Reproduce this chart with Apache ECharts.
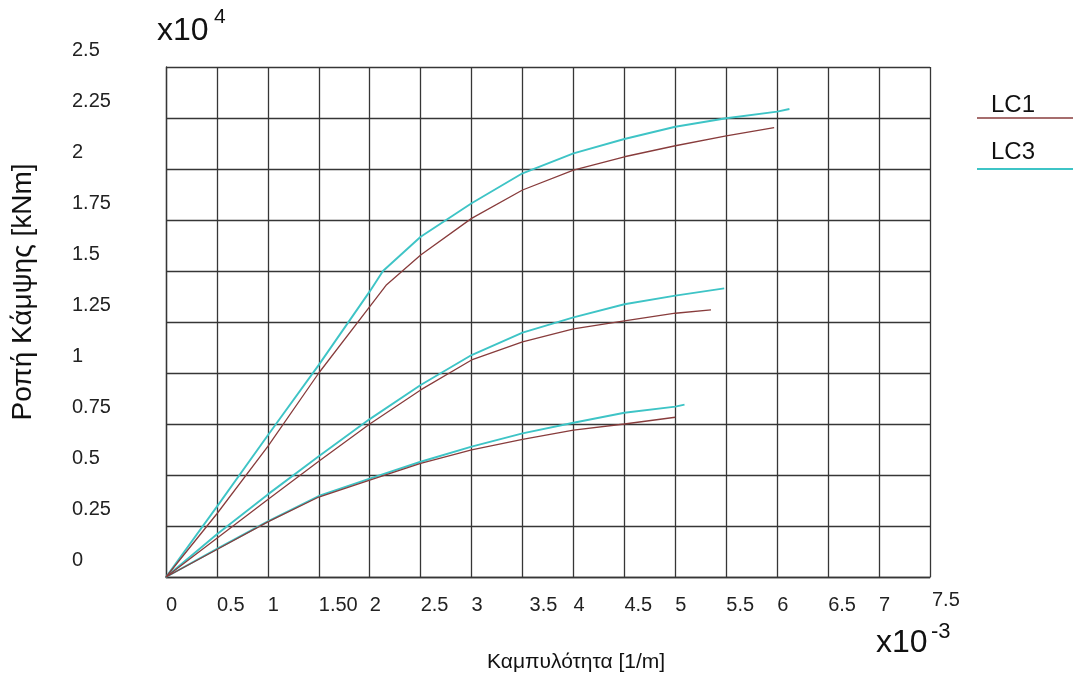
<!DOCTYPE html>
<html>
<head>
<meta charset="utf-8">
<script src="https://cdn.jsdelivr.net/npm/echarts@6/dist/echarts.min.js"></script>
<style>
  html, body { margin: 0; padding: 0; background: #ffffff; }
  #chart { width: 1073px; height: 681px; }
</style>
</head>
<body>
<div id="chart"></div>
<script>
// Tick labels (curvature in x10^-3 1/m, moment in x10^4 kNm)
const xTickLabels = ['0', '0.5', '1', '1.50', '2', '2.5', '3', '3.5', '4', '4.5', '5', '5.5', '6', '6.5', '7', '7.5'];
const yTickLabels = ['0', '0.25', '0.5', '0.75', '1', '1.25', '1.5', '1.75', '2', '2.25', '2.5'];

// Upper pair of moment-curvature curves
const upperLC1X = [0, 0.5, 1.0, 1.5, 2.0, 2.16, 2.5, 3.0, 3.5, 4.0, 4.5, 5.0, 5.5, 5.97];
const upperLC1Y = [0, 0.31, 0.64, 1.0, 1.325, 1.43, 1.578, 1.758, 1.897, 1.995, 2.06, 2.114, 2.162, 2.203];
const upperLC3X = [0, 0.5, 1.0, 1.5, 2.0, 2.13, 2.5, 3.0, 3.5, 4.0, 4.5, 5.0, 5.5, 6.0, 6.12];
const upperLC3Y = [0, 0.345, 0.695, 1.04, 1.40, 1.50, 1.668, 1.832, 1.979, 2.077, 2.147, 2.207, 2.249, 2.281, 2.294];

// Middle pair
const middleLC1X = [0, 0.5, 1.0, 1.5, 2.0, 2.5, 3.0, 3.5, 4.0, 4.5, 5.0, 5.35];
const middleLC1Y = [0, 0.19, 0.38, 0.567, 0.75, 0.917, 1.064, 1.153, 1.216, 1.256, 1.293, 1.309];
const middleLC3X = [0, 0.5, 1.0, 1.5, 2.0, 2.5, 3.0, 3.5, 4.0, 4.5, 5.0, 5.48];
const middleLC3Y = [0, 0.21, 0.405, 0.592, 0.774, 0.941, 1.088, 1.198, 1.273, 1.337, 1.379, 1.415];

// Lower pair
const lowerLC1X = [0, 0.5, 1.0, 1.5, 2.0, 2.5, 3.0, 3.5, 4.0, 4.5, 5.0];
const lowerLC1Y = [0, 0.135, 0.27, 0.392, 0.475, 0.557, 0.623, 0.675, 0.72, 0.75, 0.783];
const lowerLC3X = [0, 0.5, 1.0, 1.5, 2.0, 2.5, 3.0, 3.5, 4.0, 4.5, 5.0, 5.09];
const lowerLC3Y = [0, 0.138, 0.273, 0.397, 0.482, 0.565, 0.639, 0.704, 0.756, 0.805, 0.835, 0.845];

const COLOR_LC1 = '#883c3c';
const COLOR_LC3 = '#3ec4c6';
const GRID_COLOR = '#363636';
const FONT = '"Liberation Sans", Arial, sans-serif';

function pairs(xs, ys) {
  return xs.map((x, i) => [x, ys[i]]);
}

function curve(name, xs, ys, color, width) {
  return {
    name: name,
    type: 'line',
    data: pairs(xs, ys),
    showSymbol: false,
    symbol: 'none',
    smooth: false,
    lineStyle: { color: color, width: width },
    itemStyle: { color: color },
    z: name === 'LC3' ? 3 : 4,
    animation: false
  };
}

// a few curvature labels sit slightly off their tick
function xLabel(v) {
  const i = Math.round(v / 0.5);
  const t = xTickLabels[i];
  if (t === '3.5') return '{shift|' + t + '}';
  if (t === '7.5') return '{raise|' + t + '}';
  if (t === '7') return '{back|' + t + '}';
  return t;
}

const chart = echarts.init(document.getElementById('chart'), null, { renderer: 'canvas' });

chart.setOption({
  backgroundColor: '#ffffff',
  animation: false,
  grid: { left: 166, top: 67, width: 764, height: 510, containLabel: false, outerBoundsMode: 'none' },
  xAxis: {
    type: 'value',
    min: 0,
    max: 7.5,
    interval: 0.5,
    axisLine: { show: true, onZero: false, lineStyle: { color: GRID_COLOR, width: 1.3 } },
    axisTick: { show: false },
    splitLine: { show: true, lineStyle: { color: GRID_COLOR, width: 1.3 } },
    axisLabel: {
      show: true,
      margin: 28,
      align: 'left',
      verticalAlign: 'middle',
      fontSize: 20,
      fontFamily: FONT,
      color: '#222',
      showMinLabel: true,
      showMaxLabel: true,
      formatter: xLabel,
      rich: {
        shift: { fontSize: 20, fontFamily: FONT, color: '#222', padding: [0, 0, 0, 7] },
        back: { fontSize: 20, fontFamily: FONT, color: '#222', padding: [0, 0, 0, 0] },
        raise: { fontSize: 20, fontFamily: FONT, color: '#222', padding: [0, 0, 10, 2] }
      }
    }
  },
  yAxis: {
    type: 'value',
    min: 0,
    max: 2.5,
    interval: 0.25,
    axisLine: { show: true, onZero: false, lineStyle: { color: GRID_COLOR, width: 1.3 } },
    axisTick: { show: false },
    splitLine: { show: true, lineStyle: { color: GRID_COLOR, width: 1.3 } },
    axisLabel: {
      show: true,
      margin: 94,
      align: 'left',
      verticalAlign: 'bottom',
      lineHeight: 33,
      fontSize: 20,
      fontFamily: FONT,
      color: '#222',
      showMinLabel: true,
      showMaxLabel: true,
      formatter: v => yTickLabels[Math.round(v / 0.25)]
    }
  },
  series: [
    curve('LC3', upperLC3X, upperLC3Y, COLOR_LC3, 1.9),
    curve('LC1', upperLC1X, upperLC1Y, COLOR_LC1, 1.3),
    curve('LC3', middleLC3X, middleLC3Y, COLOR_LC3, 1.9),
    curve('LC1', middleLC1X, middleLC1Y, COLOR_LC1, 1.3),
    curve('LC3', lowerLC3X, lowerLC3Y, COLOR_LC3, 1.9),
    curve('LC1', lowerLC1X, lowerLC1Y, COLOR_LC1, 1.3)
  ],
  graphic: [
    // y-axis multiplier
    { type: 'text', x: 157, y: 31, style: { text: 'x10', fontSize: 32, fontFamily: FONT, fill: '#111', align: 'left', verticalAlign: 'middle' } },
    { type: 'text', x: 214, y: 17, style: { text: '4', fontSize: 21, fontFamily: FONT, fill: '#111', align: 'left', verticalAlign: 'middle' } },
    // x-axis multiplier
    { type: 'text', x: 876, y: 643, style: { text: 'x10', fontSize: 32, fontFamily: FONT, fill: '#111', align: 'left', verticalAlign: 'middle' } },
    { type: 'text', x: 931, y: 632, style: { text: '-3', fontSize: 22, fontFamily: FONT, fill: '#111', align: 'left', verticalAlign: 'middle' } },
    // axis titles
    { type: 'text', x: 487, y: 662, style: { text: 'Καμπυλότητα [1/m]', fontSize: 21, fontFamily: FONT, fill: '#111', align: 'left', verticalAlign: 'middle' } },
    { type: 'text', x: 23, y: 292, rotation: Math.PI / 2, style: { text: 'Ροπή Κάμψης [kNm]', fontSize: 28, fontFamily: FONT, fill: '#111', align: 'center', verticalAlign: 'middle' } },
    // legend
    { type: 'text', x: 991, y: 105, style: { text: 'LC1', fontSize: 24, fontFamily: FONT, fill: '#111', align: 'left', verticalAlign: 'middle' } },
    { type: 'line', shape: { x1: 977, y1: 118, x2: 1073, y2: 118 }, style: { stroke: COLOR_LC1, lineWidth: 1.5 } },
    { type: 'text', x: 991, y: 152, style: { text: 'LC3', fontSize: 24, fontFamily: FONT, fill: '#111', align: 'left', verticalAlign: 'middle' } },
    { type: 'line', shape: { x1: 977, y1: 169, x2: 1073, y2: 169 }, style: { stroke: COLOR_LC3, lineWidth: 1.8 } }
  ]
});
</script>
</body>
</html>
